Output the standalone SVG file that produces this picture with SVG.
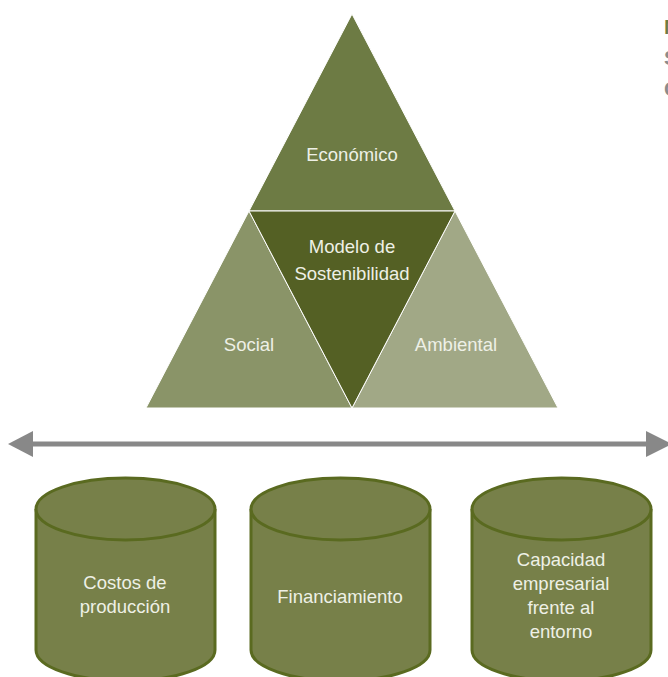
<svg xmlns="http://www.w3.org/2000/svg" width="668" height="677" viewBox="0 0 668 677">
<defs>
<style>
.lbl{font-family:"Liberation Sans",Arial,sans-serif;font-size:18.5px;fill:#eef0e6;text-anchor:middle}
.cyl{fill:#778049;stroke:#5a6a20;stroke-width:3}
.tri{stroke:#ffffff;stroke-width:1}
.frag{font-family:"Liberation Sans",Arial,sans-serif;font-size:21px;font-weight:bold}
</style>
</defs>
<rect width="668" height="677" fill="#ffffff"/>
<g id="fragments">
<text class="frag" x="664" y="34" fill="#6d7b44">M</text>
<text class="frag" x="664" y="65" fill="#8c8c8c">S</text>
<text class="frag" x="664" y="96" fill="#8c8c8c">C</text>
</g>
<g id="economico">
<polygon class="tri" points="352,14 249,211 455,211" fill="#6d7b44"/>
<text class="lbl" x="352" y="161">Económico</text>
</g>
<g id="social">
<polygon class="tri" points="146,408 249,211 352,408" fill="#8a9468"/>
<text class="lbl" x="249" y="351">Social</text>
</g>
<g id="ambiental">
<polygon class="tri" points="352,408 455,211 558,408" fill="#a1a886"/>
<text class="lbl" x="456" y="351">Ambiental</text>
</g>
<g id="modelo">
<polygon class="tri" points="249,211 455,211 352,408" fill="#546024"/>
<text class="lbl" x="352" y="253">Modelo de</text>
<text class="lbl" x="352" y="280">Sostenibilidad</text>
</g>
<g id="connectors">
<line x1="28" y1="444" x2="648" y2="444" stroke="#888888" stroke-width="5"/>
<polygon points="8,444 33,431 33,457" fill="#888888"/>
<polygon points="672,444 646,431 646,457" fill="#888888"/>
</g>
<g id="costos">
<path class="cyl" d="M36,509 V650 A89.5,31 0 0 0 215,650 V509"/>
<ellipse class="cyl" cx="125.5" cy="509" rx="89.5" ry="31"/>
<text class="lbl" x="125" y="589">Costos de</text>
<text class="lbl" x="125" y="613">producción</text>
</g>
<g id="financiamiento">
<path class="cyl" d="M251,509 V650 A89.5,31 0 0 0 430,650 V509"/>
<ellipse class="cyl" cx="340.5" cy="509" rx="89.5" ry="31"/>
<text class="lbl" x="340" y="603">Financiamiento</text>
</g>
<g id="capacidad">
<path class="cyl" d="M472,509 V650 A89.5,31 0 0 0 651,650 V509"/>
<ellipse class="cyl" cx="561.5" cy="509" rx="89.5" ry="31"/>
<text class="lbl" x="561" y="566">Capacidad</text>
<text class="lbl" x="561" y="590">empresarial</text>
<text class="lbl" x="561" y="614">frente al</text>
<text class="lbl" x="561" y="638">entorno</text>
</g>
</svg>
